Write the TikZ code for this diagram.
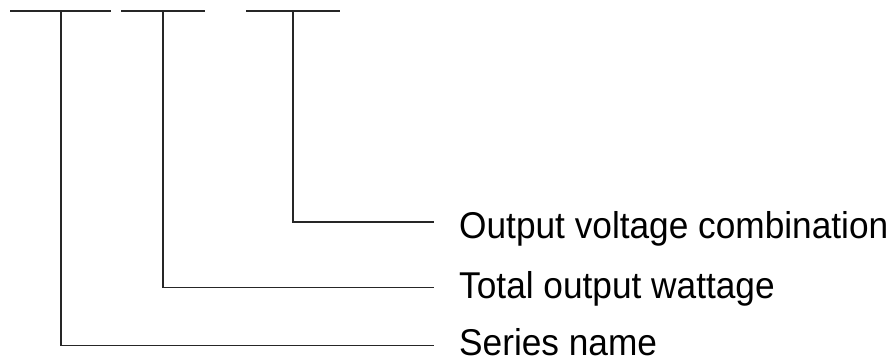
\documentclass[tikz,border=0pt]{standalone}
\usepackage{fontspec}
\setmainfont{Liberation Sans}
% slightly condensed legend lettering
\newcommand{\legendtext}[1]{\scalebox{0.945}[1]{\fontsize{37.3}{42}\selectfont #1}}
\begin{document}
\begin{tikzpicture}[x=1pt,y=-1pt,
  wire/.style={line width=1.2pt,draw=black!85},
  legend/.style={anchor=base west,inner sep=0pt}]
\useasboundingbox (0,0) rectangle (896,362);
% field bars of the model code
\coordinate (b1l) at (10,11);  \coordinate (b1r) at (111,11);
\coordinate (b2l) at (121,11); \coordinate (b2r) at (205,11);
\coordinate (b3l) at (246,11); \coordinate (b3r) at (340,11);
\draw[wire] (b1l) -- (b1r);
\draw[wire] (b2l) -- (b2r);
\draw[wire] (b3l) -- (b3r);
% drop points under each bar
\coordinate (t1) at (61,11);
\coordinate (t2) at (163,11);
\coordinate (t3) at (293,11);
% labels
\node[legend] (l3) at (459,238.5) {\legendtext{Output voltage combination}};
\node[legend] (l2) at (459,298.5) {\legendtext{Total output wattage}};
\node[legend] (l1) at (459,355.5) {\legendtext{Series name}};
% leader ends
\coordinate (e3) at (434,222);
\coordinate (e2) at (434,287.5);
\coordinate (e1) at (434,345.5);
\draw[wire] (t3) |- (e3);
\draw[wire] (t2) |- (e2);
\draw[wire] (t1) |- (e1);
\end{tikzpicture}
\end{document}
